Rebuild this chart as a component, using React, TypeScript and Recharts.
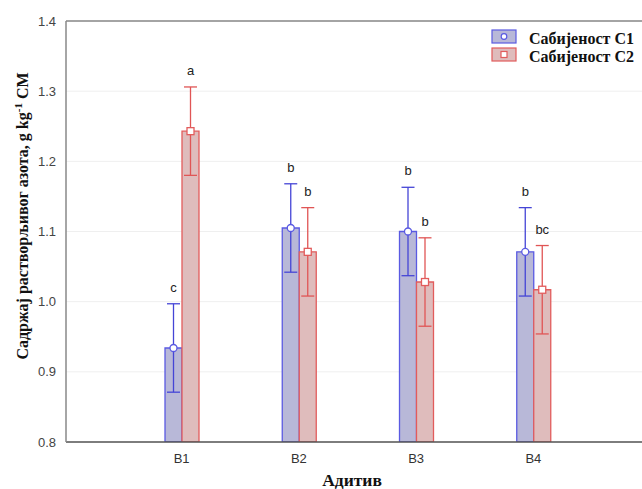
import React from "react";
import { BarChart, Bar, XAxis, YAxis, CartesianGrid, ErrorBar, LabelList, ReferenceLine } from "recharts";

const categories = ["B1", "B2", "B3", "B4"];
const c1Values = [0.934, 1.105, 1.1, 1.071];
const c1Errors = [0.063, 0.063, 0.063, 0.063];
const c1Letters = ["c", "b", "b", "b"];
const c2Values = [1.243, 1.071, 1.028, 1.017];
const c2Errors = [0.063, 0.063, 0.063, 0.063];
const c2Letters = ["a", "b", "b", "bc"];
const yTicks = [0.8, 0.9, 1.0, 1.1, 1.2, 1.3, 1.4];

const C1 = { fill: "#b8b8d8", edge: "#5a5ae2", err: "#4545d6" };
const C2 = { fill: "#dfbcbc", edge: "#e25c5c", err: "#e05555" };
const SERIF = "'Liberation Serif', 'Times New Roman', serif";
const SANS = "'Liberation Sans', Arial, sans-serif";

const data = categories.map((cat, i) => ({
  cat,
  c1: c1Values[i],
  c1Err: c1Errors[i],
  c2: c2Values[i],
  c2Err: c2Errors[i],
}));

// marker sitting on top of the bar (circle for C1, square for C2)
const marker = (kind: "circle" | "square", color: string) => (props: any) => {
  const { x, y, width } = props;
  const cx = Number(x) + Number(width) / 2;
  const cy = Number(y);
  if (kind === "circle") {
    return <circle cx={cx} cy={cy} r={3.5} fill="#fff" stroke={color} strokeWidth={1.3} />;
  }
  return <rect x={cx - 3.5} y={cy - 3.5} width={7} height={7} fill="#fff" stroke={color} strokeWidth={1.3} />;
};

// letter above the error bar; pixel size of the error derived from the bar's own scale
const letter = (vals: number[], errs: number[], letters: string[]) => (props: any) => {
  const { x, y, width, height, index } = props;
  const k = Number(height) / (vals[index] - 0.8);
  const top = Number(y) - errs[index] * k;
  return (
    <text x={Number(x) + Number(width) / 2} y={top - 12} textAnchor="middle" fontSize={13} fontFamily={SANS} fill="#222">
      {letters[index]}
    </text>
  );
};

const YTitle = () => (
  <text transform="translate(28,216) rotate(-90)" textAnchor="middle" fontFamily={SERIF} fontWeight="bold" fontSize={16} fill="#111">
    Садржај растворљивог азота, g kg
    <tspan dy={-6} fontSize={11}>-1</tspan>
    <tspan dy={6}> CM</tspan>
  </text>
);

export default function App() {
  return (
    <div style={{ position: "absolute", left: 0, top: 0, width: 642, height: 489, background: "#fff" }}>
      <BarChart width={642} height={489} data={data} margin={{ top: 21, right: 0, bottom: 17, left: 0 }} barGap={0} barSize={17}>
        <CartesianGrid vertical={false} stroke="#efefef" />
        <XAxis
          dataKey="cat"
          height={30}
          interval={0}
          padding={{ left: 57, right: 50 }}
          axisLine={{ stroke: "#555", strokeWidth: 1.5 }}
          tickLine={false}
          tickMargin={6}
          tick={{ fill: "#333", fontSize: 13, fontFamily: SANS }}
          label={{
            content: () => (
              <text x={352} y={486} textAnchor="middle" fontFamily={SERIF} fontWeight="bold" fontSize={17.5} fill="#111">
                Адитив
              </text>
            ),
          }}
        />
        <YAxis
          domain={[0.8, 1.4]}
          ticks={yTicks}
          allowDataOverflow
          width={66}
          axisLine={{ stroke: "#888", strokeWidth: 1.5 }}
          tickLine={false}
          tickMargin={4}
          tickFormatter={(v: number) => v.toFixed(1)}
          tick={{ fill: "#444", fontSize: 13, fontFamily: SANS }}
          label={{ content: () => <YTitle /> }}
        />
        <ReferenceLine y={1.4} stroke="#888" strokeWidth={1.5} />
        <Bar dataKey="c1" fill={C1.fill} stroke={C1.edge} strokeWidth={1.3} isAnimationActive={false}>
          <ErrorBar dataKey="c1Err" width={6.5} stroke={C1.err} strokeWidth={1.3} />
          <LabelList dataKey="c1" content={marker("circle", C1.edge)} />
          <LabelList dataKey="c1" content={letter(c1Values, c1Errors, c1Letters)} />
        </Bar>
        <Bar dataKey="c2" fill={C2.fill} stroke={C2.edge} strokeWidth={1.3} isAnimationActive={false}>
          <ErrorBar dataKey="c2Err" width={6.5} stroke={C2.err} strokeWidth={1.3} />
          <LabelList dataKey="c2" content={marker("square", C2.edge)} />
          <LabelList dataKey="c2" content={letter(c2Values, c2Errors, c2Letters)} />
        </Bar>
      </BarChart>
      <svg width={642} height={489} style={{ position: "absolute", left: 0, top: 0, pointerEvents: "none" }}>
        <rect x={492} y={30} width={24} height={13} fill={C1.fill} stroke={C1.edge} strokeWidth={1.2} />
        <circle cx={504} cy={36.5} r={2.8} fill="#fff" stroke={C1.edge} strokeWidth={1.2} />
        <text x={529} y={44} fontFamily={SERIF} fontWeight="bold" fontSize={16} fill="#111">Сабијеност C1</text>
        <rect x={492} y={48} width={24} height={13} fill={C2.fill} stroke={C2.edge} strokeWidth={1.2} />
        <rect x={501} y={51.5} width={6} height={6} fill="#fff" stroke={C2.edge} strokeWidth={1.2} />
        <text x={529} y={62} fontFamily={SERIF} fontWeight="bold" fontSize={16} fill="#111">Сабијеност C2</text>
      </svg>
    </div>
  );
}
